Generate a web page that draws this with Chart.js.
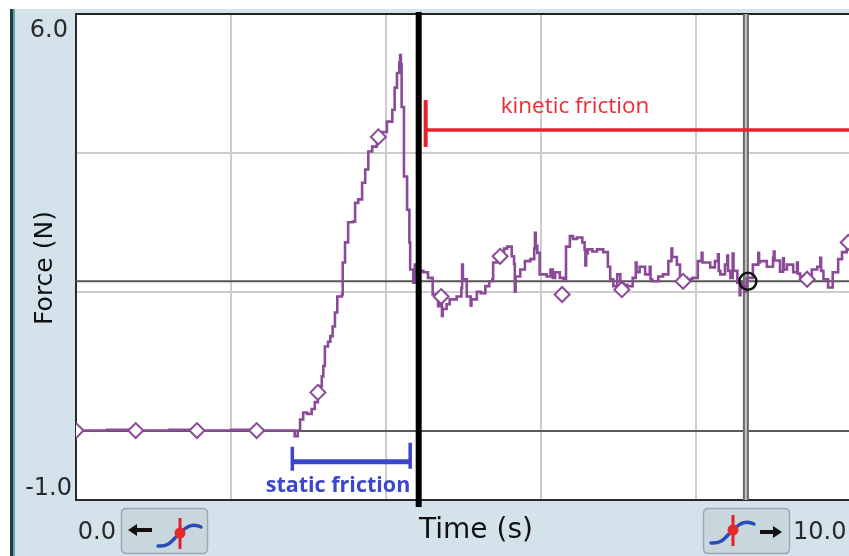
<!DOCTYPE html>
<html><head><meta charset="utf-8">
<script src="https://cdn.jsdelivr.net/npm/chart.js@4.4.0/dist/chart.umd.min.js"></script>
<style>html,body{margin:0;padding:0;background:#fff;overflow:hidden;}#wrap{width:849px;height:556px;position:relative;}</style>
</head><body><div id="wrap"><canvas id="c"></canvas></div>
<script>
// ---- data ----
const timeS = [0.00,0.40,0.80,1.20,1.60,2.00,2.40,2.78,2.82,2.86,2.89,2.93,2.98,3.04,3.08,3.12,3.15,3.17,3.19,3.21,3.25,3.28,3.31,3.34,3.37,3.43,3.44,3.47,3.51,3.57,3.60,3.64,3.69,3.73,3.77,3.82,3.88,3.95,4.01,4.08,4.11,4.14,4.17,4.18,4.19,4.20,4.23,4.27,4.30,4.31,
  4.35,4.37,4.42,4.48,4.54,4.60,4.67,4.69,4.72,4.73,4.78,4.82,4.91,4.97,4.98,4.99,5.04,5.09,5.10,5.17,5.22,5.28,5.33,5.37,5.38,5.43,5.47,5.52,5.56,5.62,5.65,5.66,5.67,5.73,5.79,5.86,5.91,5.92,5.93,5.95,5.98,6.07,6.12,6.15,6.18,6.24,6.29,6.32,6.37,6.41,6.46,6.53,6.56,6.57,6.58,6.60,6.66,6.72,6.80,6.86,6.89,6.93,6.98,
  7.02,7.06,7.11,7.18,7.22,7.23,7.27,7.34,7.40,7.41,7.43,7.51,7.57,7.64,7.68,7.69,7.75,7.79,7.88,7.95,8.02,8.07,8.08,8.11,8.18,8.24,8.28,8.29,8.31,8.37,8.40,8.41,8.44,8.47,8.48,8.53,8.56,8.57,8.59,8.62,8.65,8.73,8.80,8.81,8.82,8.91,8.99,9.00,9.01,9.08,9.12,9.13,9.17,9.25,9.30,9.31,9.34,9.40,9.49,9.56,9.60,9.61,9.64,9.70,9.76,9.83,9.88,9.94,9.97];
const forceN = [0.00,0.01,0.00,0.01,0.00,0.01,0.00,0.00,-0.08,0.00,0.16,0.26,0.24,0.31,0.41,0.52,0.64,0.78,0.93,1.21,1.28,1.36,1.50,1.70,1.93,1.96,2.42,2.71,3.00,3.01,3.28,3.33,3.57,3.76,4.02,4.09,4.23,4.30,4.45,4.62,4.94,5.15,5.30,5.41,5.28,4.66,3.66,3.18,2.71,2.32,
  2.13,2.39,2.30,2.28,2.20,1.96,1.79,1.89,1.65,1.75,1.82,1.89,1.93,2.05,2.39,2.18,1.93,1.80,1.89,2.00,1.98,2.08,2.15,2.18,2.42,2.50,2.51,2.62,2.65,2.51,2.40,2.00,2.22,2.32,2.44,2.47,2.62,2.85,2.66,2.56,2.25,2.22,2.32,2.20,2.28,2.20,2.18,2.65,2.80,2.76,2.78,2.71,2.60,2.38,2.55,2.61,2.58,2.61,2.57,2.36,2.18,2.08,2.25,
  2.14,2.10,2.08,2.20,2.42,2.28,2.36,2.25,2.36,2.18,2.15,2.22,2.25,2.44,2.62,2.50,2.39,2.20,2.18,2.20,2.44,2.56,2.42,2.42,2.35,2.44,2.54,2.30,2.25,2.39,2.52,2.30,2.20,2.55,2.30,2.13,1.95,2.12,2.08,2.00,2.20,2.39,2.56,2.42,2.44,2.36,2.49,2.58,2.45,2.29,2.48,2.32,2.39,2.28,2.42,2.26,2.22,2.15,2.32,2.36,2.49,2.30,2.18,2.06,2.28,2.47,2.57,2.68,2.70];
const markerTime  = [0.00,0.77,1.56,2.33,3.12,3.90,4.71,5.47,6.27,7.04,7.83,9.43,9.96];
const markerForce = [0.00,0.00,0.00,0.00,0.55,4.23,1.93,2.51,1.96,2.03,2.15,2.18,2.71];
const xGridValues = [0,2,4,6,8];
const yGridValues = [-1,0,2,4,6];
const xEndLabels = ['0.0','10.0'];
const yEndLabels = ['6.0','-1.0'];
const xTitle = 'Time (s)';
const yTitle = 'Force (N)';
const cursorTime = 8.64, cursorForce = 2.15;
const dividerTime = 4.42;
const kineticLabel = 'kinetic friction', kineticStart = 4.51, kineticLevel = 4.33;
const staticLabel = 'static friction', staticStart = 2.79, staticEnd = 4.31, staticLevel = -0.45;

const PURPLE = '#8b4a97';
const points = timeS.map((t,i)=>({x:t,y:forceN[i]}));
const marks = markerTime.map((t,i)=>({x:t,y:markerForce[i]}));

function rr(ctx,x,y,w,h,r){ctx.beginPath();ctx.moveTo(x+r,y);ctx.lineTo(x+w-r,y);ctx.quadraticCurveTo(x+w,y,x+w,y+r);ctx.lineTo(x+w,y+h-r);ctx.quadraticCurveTo(x+w,y+h,x+w-r,y+h);ctx.lineTo(x+r,y+h);ctx.quadraticCurveTo(x,y+h,x,y+h-r);ctx.lineTo(x,y+r);ctx.quadraticCurveTo(x,y,x+r,y);ctx.closePath();}
function icon(ctx,rx,cy){
  ctx.strokeStyle='#2b4db5';ctx.lineWidth=3.5;ctx.lineCap='round';
  ctx.beginPath();ctx.moveTo(rx-22,cy+13);ctx.bezierCurveTo(rx-10,cy+14,rx-7,cy+6,rx,cy);
  ctx.bezierCurveTo(rx+7,cy-7,rx+13,cy-10,rx+21,cy-6);ctx.stroke();
  ctx.strokeStyle='#e0202a';ctx.lineWidth=3;ctx.lineCap='butt';
  ctx.beginPath();ctx.moveTo(rx,cy-15);ctx.lineTo(rx,cy+16);ctx.stroke();
  ctx.fillStyle='#e52a2a';ctx.beginPath();ctx.arc(rx,cy,5.5,0,Math.PI*2);ctx.fill();
}
function arrow(ctx,x1,x2,y,dir){
  ctx.strokeStyle='#111';ctx.fillStyle='#111';ctx.lineWidth=4;
  ctx.beginPath();
  if(dir<0){ctx.moveTo(x1+7,y);ctx.lineTo(x2,y);ctx.stroke();ctx.beginPath();ctx.moveTo(x1,y);ctx.lineTo(x1+9,y-6);ctx.lineTo(x1+9,y+6);ctx.closePath();ctx.fill();}
  else{ctx.moveTo(x1,y);ctx.lineTo(x2-7,y);ctx.stroke();ctx.beginPath();ctx.moveTo(x2,y);ctx.lineTo(x2-9,y-6);ctx.lineTo(x2-9,y+6);ctx.closePath();ctx.fill();}
}

const decor = {
  id:'decor',
  beforeDraw(chart){
    const {ctx,chartArea:a}=chart;ctx.save();
    ctx.fillStyle='#ffffff';ctx.fillRect(0,0,chart.width,chart.height);
    ctx.fillStyle='#d4e3eb';ctx.fillRect(10,9,chart.width-10,chart.height-9);
    ctx.fillStyle='#1f3b40';ctx.fillRect(10,9,3,chart.height-9);
    ctx.fillStyle='#5da7aa';ctx.fillRect(13,9,2,chart.height-9);
    ctx.fillStyle='#ffffff';ctx.fillRect(a.left,a.top,a.right-a.left,a.bottom-a.top);
    ctx.restore();
  },
  beforeDatasetsDraw(chart){
    const {ctx,chartArea:a,scales:{x,y}}=chart;ctx.save();
    const cy=y.getPixelForValue(cursorForce), cx=x.getPixelForValue(cursorTime);
    ctx.strokeStyle='#555';ctx.lineWidth=2;
    ctx.beginPath();ctx.moveTo(a.left,cy);ctx.lineTo(a.right,cy);ctx.stroke();
    ctx.fillStyle='#6a6a6a';ctx.fillRect(cx-3,a.top,6,a.bottom-a.top);
    ctx.fillStyle='#c4c4c4';ctx.fillRect(cx-1,a.top,2,a.bottom-a.top);
    ctx.restore();
  },
  afterDatasetsDraw(chart){
    const {ctx,chartArea:a,scales:{x,y}}=chart;ctx.save();
    ctx.strokeStyle='#111';ctx.lineWidth=2.5;ctx.beginPath();
    ctx.arc(x.getPixelForValue(cursorTime)+2,y.getPixelForValue(cursorForce),8.5,0,Math.PI*2);ctx.stroke();
    const dx=x.getPixelForValue(dividerTime);
    ctx.fillStyle='#000';ctx.fillRect(dx-3,a.top-2,6,a.bottom-a.top+9);
    const kx=x.getPixelForValue(kineticStart), ky=y.getPixelForValue(kineticLevel);
    ctx.strokeStyle='#e8222b';ctx.lineWidth=3.5;
    ctx.beginPath();ctx.moveTo(kx,ky);ctx.lineTo(a.right,ky);ctx.stroke();
    ctx.lineWidth=4;ctx.beginPath();ctx.moveTo(kx,ky-30);ctx.lineTo(kx,ky+17);ctx.stroke();
    ctx.fillStyle='#ee2a30';ctx.font='22.5px "Open Sans"';ctx.textAlign='center';ctx.textBaseline='middle';
    ctx.fillText(kineticLabel,575,107);
    const s1=x.getPixelForValue(staticStart), s2=x.getPixelForValue(staticEnd), sy=y.getPixelForValue(staticLevel);
    ctx.strokeStyle='#3b46cc';ctx.lineWidth=5;
    ctx.beginPath();ctx.moveTo(s1,sy);ctx.lineTo(s2,sy);ctx.stroke();
    ctx.lineWidth=3.5;
    ctx.beginPath();ctx.moveTo(s1,sy-15);ctx.lineTo(s1,sy+9);ctx.moveTo(s2,sy-19);ctx.lineTo(s2,sy+7);ctx.stroke();
    ctx.fillStyle='#3b46cc';ctx.font='bold 21.5px "Open Sans"';ctx.textAlign='center';
    ctx.fillText(staticLabel,338,486);
    ctx.restore();
  },
  afterDraw(chart){
    const {ctx}=chart;ctx.save();
    ctx.fillStyle='#2a2a2a';ctx.font='24px "DejaVu Sans"';ctx.textBaseline='middle';
    ctx.textAlign='right';ctx.fillText(yEndLabels[0],68,31);ctx.fillText(yEndLabels[1],72,489);
    ctx.fillText(xEndLabels[0],116,533);
    ctx.textAlign='left';ctx.fillText(xEndLabels[1],793,533);
    ctx.fillStyle='#111';ctx.font='28px "DejaVu Sans"';ctx.textAlign='center';
    ctx.fillText(xTitle,476,531);
    ctx.save();ctx.translate(45,268);ctx.rotate(-Math.PI/2);ctx.font='25px "DejaVu Sans"';ctx.fillText(yTitle,0,0);ctx.restore();
    [[121,508],[703,508]].forEach(([bx,by])=>{
      rr(ctx,bx+0.5,by+0.5,86,45,5);ctx.fillStyle='#c8d6de';ctx.fill();ctx.strokeStyle='#9aaab3';ctx.lineWidth=1.5;ctx.stroke();
    });
    arrow(ctx,128,152,530,-1);icon(ctx,180,533);
    icon(ctx,733,530);arrow(ctx,760,782,532,1);
    ctx.restore();
  }
};

new Chart(document.getElementById('c'),{
  type:'line',
  data:{datasets:[
    {data:points,borderColor:PURPLE,borderWidth:2.6,pointRadius:0,stepped:true,fill:false,order:2},
    {data:marks,showLine:false,pointStyle:'rectRot',pointRadius:7.5,pointBorderWidth:2,pointBorderColor:PURPLE,pointBackgroundColor:'#ffffff',order:1}
  ]},
  options:{
    responsive:true,maintainAspectRatio:false,animation:false,
    layout:{autoPadding:false,padding:{left:76,top:14,right:0,bottom:56}},
    plugins:{legend:{display:false},tooltip:{enabled:false}},
    scales:{
      x:{type:'linear',min:0,max:9.97,
        afterBuildTicks:s=>{s.ticks=xGridValues.map(v=>({value:v}));},
        ticks:{display:false},title:{display:false},
        grid:{drawTicks:false,color:c=>c.tick.value===0?'rgba(0,0,0,0)':'#cdcdcd',lineWidth:2},
        border:{display:true,color:'#2a2a2a',width:2}},
      y:{type:'linear',min:-1,max:6,
        afterBuildTicks:s=>{s.ticks=yGridValues.map(v=>({value:v}));},
        ticks:{display:false},title:{display:false},
        grid:{drawTicks:false,color:c=>c.tick.value===0?'#5a5a5a':c.tick.value===6?'#222':c.tick.value===-1?'rgba(0,0,0,0)':'#cdcdcd',lineWidth:2},
        border:{display:true,color:'#2a2a2a',width:2}}
    }
  },
  plugins:[decor]
});
</script></body></html>
